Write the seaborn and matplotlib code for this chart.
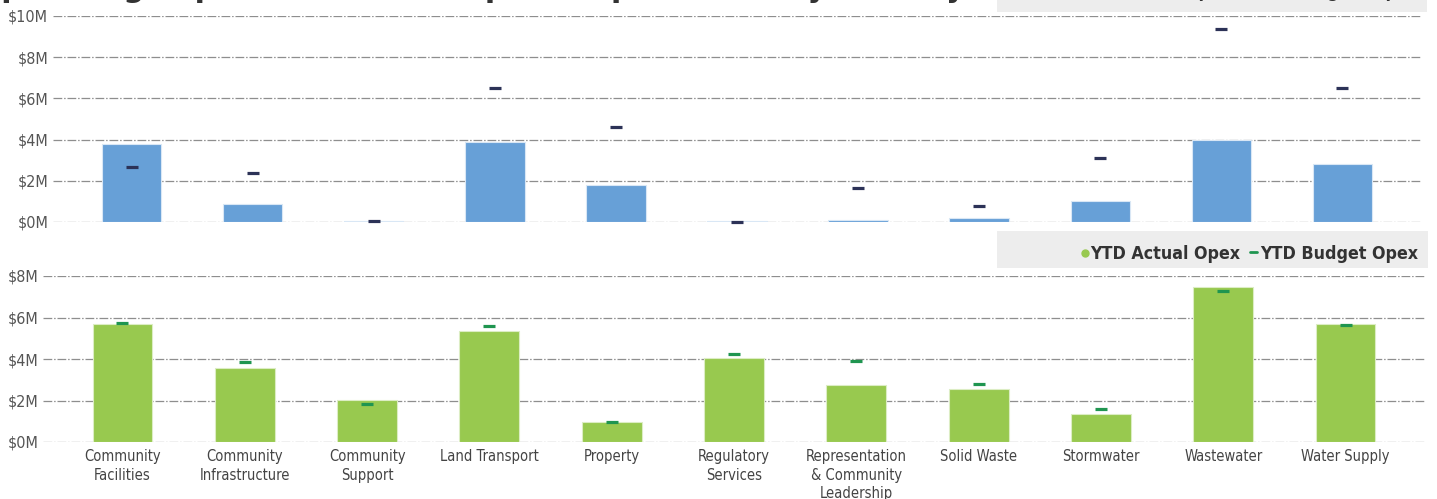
import matplotlib
matplotlib.use("Agg")
import matplotlib.pyplot as plt
import seaborn as sns
import pandas as pd
from matplotlib.patches import Rectangle
from matplotlib.lines import Line2D

# ---------------- data ($M) ----------------
categories = ["Community\nFacilities", "Community\nInfrastructure", "Community\nSupport",
              "Land Transport", "Property", "Regulatory\nServices",
              "Representation\n& Community\nLeadership", "Solid Waste", "Stormwater",
              "Wastewater", "Water Supply"]
capex_actual = [3.80, 0.87, 0.03, 3.88, 1.81, 0.03, 0.11, 0.21, 1.00, 3.96, 2.83]
capex_budget = [2.67, 2.38, 0.05, 6.52, 4.63, 0.01, 1.67, 0.76, 3.09, 9.39, 6.49]
opex_actual = [5.70, 3.59, 2.03, 5.35, 0.94, 4.06, 2.76, 2.54, 1.34, 7.46, 5.70]
opex_budget = [5.75, 3.87, 1.84, 5.59, 0.96, 4.23, 3.91, 2.80, 1.60, 7.30, 5.62]
capex_ticks = [0, 2, 4, 6, 8, 10]
opex_ticks = [0, 2, 4, 6, 8]
title_text = "Operating Expenditure and Capital Expenditure by Activity"

sns.set_theme(style="white")
plt.rcParams["font.family"] = ["DejaVu Sans"]
plt.rcParams["font.stretch"] = "condensed"

W, H = 1437, 499
fig = plt.figure(figsize=(W / 100, H / 100), dpi=100)
fig.patch.set_facecolor("white")


def px_axes(left, right, top, bottom):
    return fig.add_axes([left / W, (H - bottom) / H, (right - left) / W, (bottom - top) / H])


ax1 = px_axes(53, 1421, 16, 222)
ax2 = px_axes(43, 1425, 276, 442)

BLUE, NAVY = "#67a0d7", "#2c3257"
GREEN, DKGREEN = "#98c94f", "#1f9550"
TICK_COL = "#555555"


def draw(ax, actual, budget, bar_col, edge_col, mark_col, ticks, show_x):
    df = pd.DataFrame({"cat": categories, "actual": actual, "budget": budget})
    sns.barplot(data=df, x="cat", y="actual", color=bar_col, width=0.49,
                edgecolor=edge_col, linewidth=0.8, saturation=1, ax=ax, zorder=2)
    sns.pointplot(data=df, x="cat", y="budget", color=mark_col, marker="_",
                  markersize=8.5, markeredgewidth=2.3, linestyle="none",
                  errorbar=None, ax=ax, zorder=4)
    for c in ax.collections + ax.lines:
        c.set_clip_on(False)
    ax.set_xlim(-0.65, 10.65)
    ax.set_ylim(0, ticks[-1])
    ax.set_yticks(ticks)
    ax.set_yticklabels([f"${t}M" for t in ticks])
    ax.set_xlabel("")
    ax.set_ylabel("")
    ax.set_facecolor("none")
    for s in ax.spines.values():
        s.set_visible(False)
    ax.yaxis.grid(True, color="#8e8e8e", linewidth=0.9, linestyle=(0, (7, 1.5, 1.2, 1.5)))
    ax.xaxis.grid(False)
    ax.set_axisbelow(True)
    ax.tick_params(axis="y", length=0, pad=3.5, labelsize=11.5, labelcolor=TICK_COL)
    if show_x:
        ax.tick_params(axis="x", length=0, pad=5, labelsize=10.5, labelcolor="#444444")
        for lab in ax.get_xticklabels():
            lab.set_linespacing(1.3)
            lab.set_va("top")
    else:
        ax.tick_params(axis="x", length=0, labelbottom=False)


draw(ax1, capex_actual, capex_budget, BLUE, "#d9e7f5", NAVY, capex_ticks, False)
draw(ax2, opex_actual, opex_budget, GREEN, "#dcedc4", DKGREEN, opex_ticks, True)

# ---------------- legend boxes ----------------
def fx(x):
    return x / W


def fy(y):
    return (H - y) / H


fig.patches.append(Rectangle((fx(997), fy(268)), fx(431), 37 / H, transform=fig.transFigure,
                             facecolor="#ededed", edgecolor="none", zorder=0))
fig.patches.append(Rectangle((fx(997), fy(12)), fx(430), 40 / H, transform=fig.transFigure,
                             facecolor="#ededed", edgecolor="none", zorder=0))

renderer = fig.canvas.get_renderer()


def legend_row(baseline_y, word, dot_col, dash_col):
    kw = dict(fontsize=12.8, fontweight="bold", color="#333333", va="baseline",
              transform=fig.transFigure)
    t2 = fig.text(fx(1418), fy(baseline_y), f"YTD Budget {word}", ha="right", **kw)
    bb = t2.get_window_extent(renderer)
    x_left = bb.x0
    fig.lines.append(Line2D([(x_left - 10) / W, (x_left - 3) / W],
                            [fy(baseline_y - 7)] * 2, color=dash_col, lw=2,
                            transform=fig.transFigure))
    t1 = fig.text((x_left - 20) / W, fy(baseline_y), f"YTD Actual {word}", ha="right", **kw)
    bb1 = t1.get_window_extent(renderer)
    fig.lines.append(Line2D([(bb1.x0 - 5) / W], [fy(baseline_y - 6)], marker="o",
                            markersize=5, color=dot_col, linestyle="none",
                            transform=fig.transFigure))


legend_row(259, "Opex", GREEN, DKGREEN)
legend_row(-2.5, "Capex", BLUE, NAVY)

# ---------------- title (cropped at top) ----------------
fig.text(fx(-24), fy(-2.5), title_text, ha="left", va="baseline", fontsize=21.4,
         fontweight="bold", fontstretch="normal", color="#333333")

fig.savefig("out.png", dpi=100)
